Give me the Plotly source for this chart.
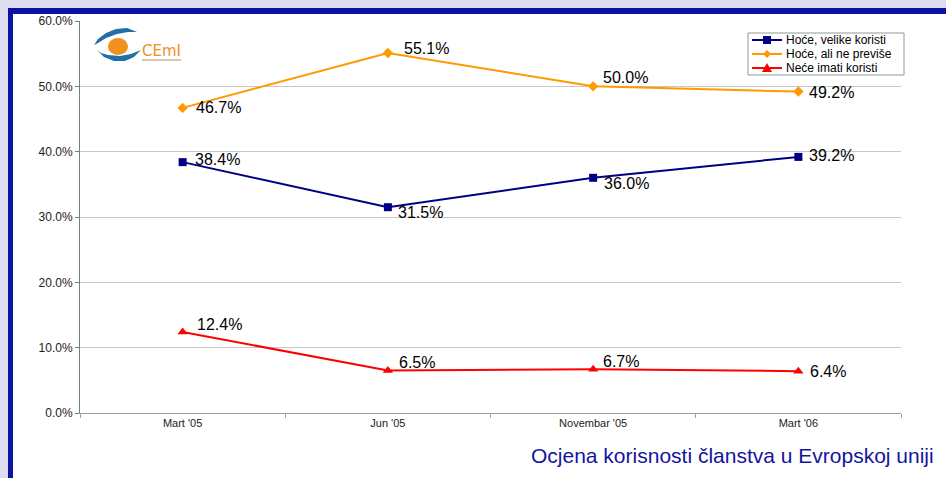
import plotly.graph_objects as go

categories = ["Mart '05", "Jun '05", "Novembar '05", "Mart '06"]
series_names = ["Hoće, velike koristi", "Hoće, ali ne previše", "Neće imati koristi"]
velike = [38.4, 31.5, 36.0, 39.2]
ali_ne = [46.7, 55.1, 50.0, 49.2]
nece = [12.4, 6.5, 6.7, 6.4]
y_ticks = [0, 10, 20, 30, 40, 50, 60]
y_tick_labels = ["0.0%", "10.0%", "20.0%", "30.0%", "40.0%", "50.0%", "60.0%"]
title_text = "Ocjena korisnosti članstva u Evropskoj uniji"
logo_text = "CEmI"

# label offsets (pixels) relative to each marker
label_dx = [[10, 8, 9, 9], [11, 14, 8, 9], [12, 9, 8, 10]]
label_dy = [[3, -5, -6, 1], [0, 5, 9, -1], [7, 8, 8, 0]]

W, H = 946, 478
L, R, T, B = 80, 45, 21, 65
PW, PH = W - L - R, H - T - B


def px(x):
    return (x - L) / PW


def py(y):
    return (H - B - y) / PH


FONT = "Liberation Sans, Arial, sans-serif"

fig = go.Figure()

styles = [
    dict(color="#000080", symbol="square", size=8),
    dict(color="#FF9900", symbol="diamond", size=8),
    dict(color="#FF0000", symbol="triangle-up", size=9),
]
annotations = []
all_vals = [velike, ali_ne, nece]
for si, (name, vals, st) in enumerate(zip(series_names, all_vals, styles)):
    fig.add_trace(go.Scatter(
        x=categories, y=vals, name=name, mode="lines+markers",
        line=dict(color=st["color"], width=2),
        marker=dict(color=st["color"], symbol=st["symbol"], size=st["size"]),
        cliponaxis=False, showlegend=False,
    ))
    for i, (c, v) in enumerate(zip(categories, vals)):
        annotations.append(dict(
            x=c, y=v, xref="x", yref="y", text=f"{v:.1f}%", showarrow=False,
            xanchor="left", yanchor="middle", xshift=label_dx[si][i], yshift=label_dy[si][i],
            font=dict(family=FONT, size=16, color="#000000")))

shapes = [
    dict(type="rect", xref="paper", yref="paper", x0=px(13), x1=px(W + 5), y0=py(14), y1=py(H + 5),
         fillcolor="white", line=dict(width=0), layer="below"),
    dict(type="rect", xref="paper", yref="paper", x0=px(8), x1=px(W + 5), y0=py(8), y1=py(14),
         fillcolor="#0a14a0", line=dict(width=0), layer="below"),
    dict(type="rect", xref="paper", yref="paper", x0=px(8), x1=px(13), y0=py(8), y1=py(H + 5),
         fillcolor="#0a14a0", line=dict(width=0), layer="below"),
]


def path(points):
    return "M " + " L ".join(f"{px(a):.5f},{py(b):.5f}" for a, b in points) + " Z"


# logo
shapes.append(dict(type="path", xref="paper", yref="paper",
                   path=path([(94, 45), (98, 39), (106, 33), (116, 29), (127, 28), (137, 32), (128, 32),
                              (117, 34), (106, 38), (98, 43)]),
                   fillcolor="#1f6fa8", line=dict(width=0)))
shapes.append(dict(type="path", xref="paper", yref="paper",
                   path=path([(97, 50), (104, 57), (114, 61), (125, 61), (134, 57), (141, 50), (131, 54),
                              (120, 56), (108, 55), (101, 53)]),
                   fillcolor="#1f6fa8", line=dict(width=0)))
shapes.append(dict(type="circle", xref="paper", yref="paper",
                   x0=px(108), x1=px(128), y0=py(38), y1=py(55),
                   fillcolor="#f0901e", line=dict(width=0)))
shapes.append(dict(type="line", xref="paper", yref="paper",
                   x0=px(142), x1=px(181), y0=py(60), y1=py(60),
                   line=dict(color="#b09070", width=1)))

annotations.append(dict(text=logo_text, xref="paper", yref="paper", x=px(140), y=py(51), xanchor="left",
                        yanchor="middle", showarrow=False,
                        font=dict(family="DejaVu Sans, sans-serif", size=15, color="#f0901e")))
annotations.append(dict(text=title_text, xref="paper", yref="paper", x=px(936), y=py(455), xanchor="right",
                        yanchor="middle", showarrow=False,
                        font=dict(family=FONT, size=21, color="#1414a0")))

# manual legend
lx0, lx1, ly0, ly1 = 748, 904, 33, 75
shapes.append(dict(type="rect", xref="paper", yref="paper", x0=px(lx0), x1=px(lx1), y0=py(ly0), y1=py(ly1),
                   fillcolor="white", line=dict(color="#8a9a9a", width=1)))
row_y = [40, 54, 68]
for name, st, yy in zip(series_names, styles, row_y):
    shapes.append(dict(type="line", xref="paper", yref="paper", x0=px(752), x1=px(782), y0=py(yy), y1=py(yy),
                       line=dict(color=st["color"], width=2)))
    cx = 767
    if st["symbol"] == "square":
        shapes.append(dict(type="rect", xref="paper", yref="paper", x0=px(cx - 4), x1=px(cx + 4),
                           y0=py(yy - 4), y1=py(yy + 4), fillcolor=st["color"], line=dict(width=0)))
    elif st["symbol"] == "diamond":
        shapes.append(dict(type="path", xref="paper", yref="paper",
                           path=path([(cx, yy - 4), (cx + 4, yy), (cx, yy + 4), (cx - 4, yy)]),
                           fillcolor=st["color"], line=dict(width=0)))
    else:
        shapes.append(dict(type="path", xref="paper", yref="paper",
                           path=path([(cx, yy - 5), (cx + 5, yy + 4), (cx - 5, yy + 4)]),
                           fillcolor=st["color"], line=dict(width=0)))
    annotations.append(dict(text=name, xref="paper", yref="paper", x=px(784), y=py(yy), xanchor="left",
                            yanchor="middle", showarrow=False,
                            font=dict(family=FONT, size=12, color="#000000")))

fig.update_layout(
    width=W, height=H,
    margin=dict(l=L, r=R, t=T, b=B, pad=0),
    paper_bgcolor="#dedcee", plot_bgcolor="white",
    shapes=shapes, annotations=annotations,
    showlegend=False,
    xaxis=dict(type="category", tickson="boundaries", ticks="outside", ticklen=4,
               tickcolor="#a0a0a0", showgrid=False, showline=True, linecolor="#a0a0a0",
               tickfont=dict(family=FONT, size=11, color="#222222"), range=[-0.5, 3.5]),
    yaxis=dict(range=[0, 60], tickvals=y_ticks, ticktext=y_tick_labels, ticks="outside", ticklen=4,
               tickcolor="#708080", showline=True, linecolor="#708080", linewidth=1,
               gridcolor="#c8c8c8", gridwidth=1, zeroline=False,
               tickfont=dict(family=FONT, size=12, color="#222222")),
)

fig.write_html("out.html", config={"displayModeBar": False},
               post_script="document.body.style.margin='0';document.body.style.background='#dedcee';")
